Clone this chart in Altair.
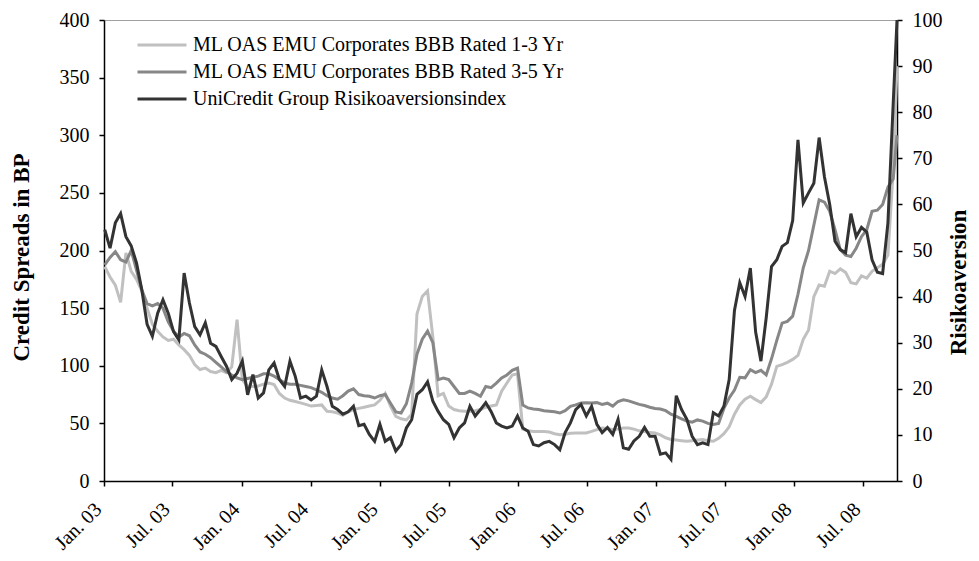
import altair as alt
import pandas as pd

S1 = "ML OAS EMU Corporates BBB Rated 1-3 Yr"
S2 = "ML OAS EMU Corporates BBB Rated 3-5 Yr"
S3 = "UniCredit Group Risikoaversionsindex"

# fortnightly observations, plus the last observation at the end of the range
DATES = pd.date_range("2003-01-03", periods=150, freq="14D").strftime("%Y-%m-%d").tolist() + ["2008-09-29"]

LIGHT = [186, 177, 170, 155, 198, 182, 175, 165, 150, 136,
         130, 125, 122, 123, 118, 114, 109, 101, 96.7, 98,
         95, 94, 96, 94, 99, 140, 88, 82, 82, 82.5,
         84, 85, 83.7, 76, 72, 70, 69, 67.8, 66.5, 65,
         65.5, 66, 60.5, 60, 59, 57, 60, 62, 63, 64,
         65, 66, 70, 76, 65, 56, 54, 53, 58, 145,
         160, 165, 125, 74, 76, 65, 62, 61, 60.5, 60.5,
         61, 62, 64, 65, 66, 78, 85, 92, 93, 45,
         43.5, 43, 43, 43, 42.5, 41, 40.2, 40.5, 41.5, 41.7,
         41.7, 41.7, 43, 44.6, 46, 45.5, 44.6, 45, 46, 46,
         45, 43.5, 43, 42, 41.7, 40, 37.5, 36, 35.5, 35,
         34.5, 35, 35.5, 36, 35, 34.5, 37, 41, 47, 58,
         66, 71, 73.5, 70.6, 68, 73, 84, 99.5, 101, 103,
         105.5, 109, 123, 131, 160, 170, 169, 182, 180, 184,
         181, 172, 171, 178, 176, 182, 185, 188, 196, 270,
         360]

MEDIUM = [187.6, 194, 199, 192, 190, 200, 183, 166, 154, 152,
          154, 150, 138, 130, 125, 128, 126, 118, 112, 110,
          107, 103, 99, 95, 92, 89.5, 88, 89, 90, 91,
          93, 93, 91, 88, 85, 84, 84, 83, 82, 81,
          79, 77, 74, 72, 71, 74, 78, 80, 75, 74,
          73.5, 72, 74, 75, 67.5, 60, 59, 67, 85, 110,
          123, 130, 120, 88, 89.4, 88, 82, 76, 76, 78,
          76, 73.5, 82, 81, 85, 89.4, 92, 96, 98, 66,
          63.4, 62.5, 62, 61, 60.5, 60, 59, 61, 64.8, 66,
          67.7, 68, 67.7, 68, 66.5, 67.5, 65, 69, 70.5, 69.5,
          68, 66.5, 65.5, 64, 63, 62.5, 61, 58, 56, 54,
          52, 51, 53, 52, 50, 49, 50, 63, 72, 79,
          90, 89.5, 96.6, 94, 96, 92, 106, 122, 137, 138.5,
          143, 162, 185, 200, 222, 244, 242, 234, 218, 200.6,
          196, 194.8, 202, 212, 218, 234, 235, 240, 255, 262,
          300]

DARK = [54.5, 50.5, 56, 58, 53, 51, 47.3, 41.5, 34, 31.4,
        36.4, 39.3, 36.4, 32.4, 30.6, 45.1, 38.6, 33.5, 31.7, 34.3,
        29.9, 29.2, 27, 24.9, 22, 23.4, 26, 18.7, 23.1, 18,
        19.1, 24.1, 25.6, 22, 20.5, 26, 22.7, 18, 18.4, 17.6,
        18.4, 24.1, 20.5, 16.2, 15.5, 14.5, 15, 16.2, 12, 12.3,
        10.1, 8.6, 12.3, 8.6, 9.4, 6.5, 7.9, 11.5, 13.3, 18.8,
        19.8, 21.5, 17.3, 15.1, 13.3, 12.3, 9.4, 11.5, 12.6, 16.2,
        14.1, 15.5, 17, 15.1, 12.6, 11.9, 11.5, 11.9, 14.1, 11.5,
        10.8, 7.9, 7.6, 8.3, 8.6, 7.9, 6.8, 10.5, 12.6, 15.5,
        16.6, 14.1, 16.2, 12.3, 10.5, 11.6, 10.1, 13.4, 7.2, 6.9,
        8.7, 9.7, 11.6, 9.7, 9.7, 5.8, 6.1, 4.7, 18.5, 15.5,
        13.4, 9.7, 7.9, 8.3, 7.9, 14.8, 14.1, 16.2, 22, 37,
        43, 40, 46.2, 32.3, 26, 35.4, 46.5, 48, 50.9, 51.7,
        56.5, 74, 60.3, 62.5, 64.6, 74.5, 66, 60, 52, 50.2,
        49.5, 58, 53, 55, 54, 48, 45.3, 45, 56, 82,
        100]

LEFT_TICKS = [0, 50, 100, 150, 200, 250, 300, 350, 400]
RIGHT_TICKS = [0, 10, 20, 30, 40, 50, 60, 70, 80, 90, 100]
COLORS = ["#c0c0c0", "#878787", "#333333"]
FONT = "Liberation Serif"

n = len(DATES)
df_bp = pd.DataFrame({"date": DATES * 2, "value": LIGHT + MEDIUM,
                      "series": [S1] * n + [S2] * n})
df_idx = pd.DataFrame({"date": DATES, "value": DARK, "series": [S3] * n})

x_ticks = [alt.DateTime(year=y, month=m, date=1, utc=True)
           for y in range(2003, 2009) for m in (1, 7)]

x = alt.X("date:T",
          scale=alt.Scale(type="utc",
                          domain=[alt.DateTime(year=2003, month=1, date=1, utc=True),
                                  alt.DateTime(year=2008, month=9, date=29, utc=True)]),
          axis=alt.Axis(values=x_ticks, labelExpr="utcFormat(datum.value, '%b. %y')",
                        labelAngle=315, labelAlign="right", labelBaseline="middle",
                        labelPadding=20, labelOffset=-6, labelOverlap=False,
                        labelFlush=False, tickSize=5),
          title=None)

color = alt.Color("series:N",
                  scale=alt.Scale(domain=[S1, S2, S3], range=COLORS),
                  legend=alt.Legend(orient="none", legendX=32, legendY=15, title=None,
                                    symbolType="stroke", symbolSize=2401,
                                    symbolStrokeWidth=3, labelFontSize=20,
                                    labelFont=FONT, labelColor="black",
                                    labelOffset=5, rowPadding=7, padding=0,
                                    clipHeight=20, labelLimit=800))

left = alt.Chart(df_bp).mark_line(strokeWidth=3).encode(
    x=x,
    y=alt.Y("value:Q", scale=alt.Scale(domain=[0, 400]),
            axis=alt.Axis(orient="left", values=LEFT_TICKS, tickSize=5, labelPadding=10,
                          titleAngle=270, titleX=-83, titleY=237,
                          titleAlign="center", titleBaseline="middle"),
            title="Credit Spreads in BP"),
    color=color,
)

right = alt.Chart(df_idx).mark_line(strokeWidth=3).encode(
    x=x,
    y=alt.Y("value:Q", scale=alt.Scale(domain=[0, 100]),
            axis=alt.Axis(orient="right", values=RIGHT_TICKS, tickSize=5, labelPadding=10,
                          titleAngle=270, titleX=61, titleY=262,
                          titleAlign="center", titleBaseline="middle"),
            title="Risikoaversion"),
    color=color,
)

chart = alt.layer(left, right).resolve_scale(y="independent").properties(
    width=793, height=461,
    padding={"left": 96, "top": 12, "right": 74, "bottom": 72},
    autosize=alt.AutoSizeParams(type="none"),
).configure_view(
    stroke="#a0a0a0", strokeWidth=1
).configure_axis(
    grid=False, domainColor="black", domainWidth=1.5, tickColor="black", tickWidth=1.5,
    labelFont=FONT, labelFontSize=20, labelColor="black",
    titleFont=FONT, titleFontSize=23, titleFontWeight="bold", titleColor="black",
)

chart.save("out.html", embed_options={"renderer": "svg", "actions": False})
